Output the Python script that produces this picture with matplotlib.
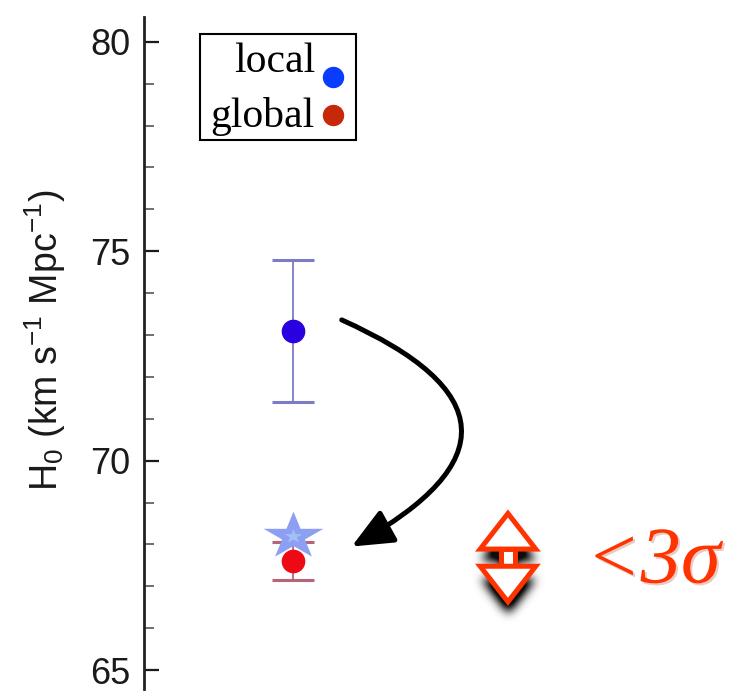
import numpy as np
import matplotlib.pyplot as plt
import matplotlib.patheffects as pe
from matplotlib.patches import FancyArrowPatch, Polygon, Rectangle
from matplotlib.lines import Line2D
from matplotlib.path import Path
from matplotlib.transforms import Affine2D

plt.rcParams['font.family'] = ['Liberation Sans', 'DejaVu Sans']
plt.rcParams['mathtext.fontset'] = 'custom'
plt.rcParams['mathtext.rm'] = 'Liberation Sans'
plt.rcParams['mathtext.it'] = 'Liberation Sans:italic'

# Valeurs de H0 (km/s/Mpc)
labels = ['local', 'global']
h0 = [73.1, 67.6]
h0_err = [1.7, 0.45]
h0_star = 68.2
pt_colors = ['#2a00e0', '#ee0a14']
bar_colors = ['#7b7bc6', '#b86478']
legend_colors = ['#0a3cff', '#c8280a']
x_pos = 1.5

W, H = 739, 698
fig = plt.figure(figsize=(W / 100, H / 100), dpi=100)
ax = fig.add_axes([144 / W, 9 / H, 595 / W, 672 / H])
ax.patch.set_alpha(0)

# barres d'erreur + points
for v, e, c, bc in zip(h0, h0_err, pt_colors, bar_colors):
    ax.errorbar([x_pos], [v], yerr=[e], fmt='none', ecolor=bc,
                elinewidth=1.3, capsize=15, capthick=2.2, zorder=2)
    ax.plot([x_pos], [v], 'o', ms=16, color=c, mec=c, zorder=3)

# etoile (valeur globale corrigee), un peu etiree en largeur
star = Path.unit_regular_star(5, 0.381966)
star = star.transformed(Affine2D().scale(1.26, 1.0))
ax.plot([x_pos], [h0_star], marker=star, ms=43, color='#8c9ff2', mec='none', zorder=4)
ax.plot([x_pos], [h0_star], marker=star, ms=13, color='#a4bff4', mec='none', zorder=5)

# fleche courbe local -> global
arr = FancyArrowPatch((1.994, 73.36), (2.094, 67.95),
                      connectionstyle='arc3,rad=-1.0',
                      arrowstyle='-|>,head_length=1.25,head_width=0.55',
                      mutation_scale=20, lw=3.6, color='black',
                      shrinkA=0, shrinkB=0, zorder=6)
ax.add_patch(arr)

# double fleche rouge avec ombre floue
cx, ytop, ybot = 3.67, 68.74, 66.63
hh, hw, sw = 0.85, 0.28, 0.07
tri_up = [(cx, ytop), (cx + hw, ytop - hh), (cx - hw, ytop - hh)]
tri_dn = [(cx, ybot), (cx + hw, ybot + hh), (cx - hw, ybot + hh)]
shaft = [(cx - sw, ybot + hh), (cx + sw, ybot + hh),
         (cx + sw, ytop - hh), (cx - sw, ytop - hh)]


def blur(a, sigma):
    r = int(3 * sigma)
    k = np.exp(-0.5 * (np.arange(-r, r + 1) / sigma) ** 2)
    k /= k.sum()
    a = np.apply_along_axis(lambda m: np.convolve(m, k, mode='same'), 0, a)
    a = np.apply_along_axis(lambda m: np.convolve(m, k, mode='same'), 1, a)
    return a


px_x, px_y = 6 / 595, 1 / 41.9
gx = np.arange(cx - 0.7, cx + 0.7, px_x)
gy = np.arange(ybot - 1.2, ytop + 0.3, px_y)
XX, YY = np.meshgrid(gx, gy)
pts = np.column_stack([XX.ravel(), YY.ravel()])
off = -12 * px_y
mask = np.zeros(XX.size, dtype=bool)
for shp in (tri_up, tri_dn, shaft):
    mask |= Path(np.array([(x, y + off) for x, y in shp])).contains_points(pts)
mask = mask.reshape(XX.shape).astype(float)
sh = np.clip(blur(mask, 5) * 1.4, 0, 1) * 0.95
rgba = np.zeros(XX.shape + (4,))
rgba[..., 3] = sh
ax.imshow(rgba, extent=(gx[0], gx[-1], gy[0], gy[-1]), origin='lower',
          aspect='auto', interpolation='bilinear', zorder=6)

for shp in (shaft, tri_up, tri_dn):
    ax.add_patch(Polygon(shp, closed=True, fc='white', ec='#ff3300',
                         lw=3.6, joinstyle='miter', zorder=7))

ax.text(4.46, 67.09, '<3σ', fontsize=58, color='#ff3300', style='italic',
        family=['Liberation Serif', 'DejaVu Serif'], ha='left', va='baseline',
        zorder=8,
        path_effects=[pe.SimplePatchShadow(offset=(1.5, -1.5), shadow_rgbFace='#aa3311', alpha=0.25),
                      pe.Normal()])

# axes
ax.set_xlim(0, 6)
ax.set_ylim(64.55, 80.59)
ax.set_xticks([])
for s in ('top', 'right', 'bottom'):
    ax.spines[s].set_visible(False)
ax.spines['left'].set_linewidth(2)
ax.spines['left'].set_color('#222222')
ax.set_yticks([65, 70, 75, 80])
ax.set_yticks(np.arange(65, 81), minor=True)
ax.tick_params(axis='y', which='major', direction='in', length=10.8, width=1.6,
               pad=10, labelsize=26, colors='#1a1a1a')
ax.tick_params(axis='y', which='minor', direction='in', length=7, width=1.2,
               colors='#555555')
fig.text(45 / W, 1 - 340 / H, 'H$_0$ (km s$^{-1}$ Mpc$^{-1}$)', fontsize=27,
         color='#1a1a1a', rotation=90, ha='center', va='center')

# legende faite a la main : texte a droite, point a cote
fig.add_artist(Rectangle((200 / W, 1 - 140 / H), 156 / W, 106 / H,
                         transform=fig.transFigure, fc='white', ec='black', lw=1.5))
text_base = [71.7, 126.7]
dot_y = [77.3, 115]
for lab, col, yb, yd in zip(labels, legend_colors, text_base, dot_y):
    fig.text(315 / W, 1 - yb / H, lab, fontsize=30, ha='right', va='baseline',
             family=['Liberation Serif', 'DejaVu Serif'])
    fig.add_artist(Line2D([332.7 / W], [1 - yd / H], marker='o', ms=14.4,
                          color=col, mec=col, transform=fig.transFigure))

fig.savefig('out.png', dpi=100)
